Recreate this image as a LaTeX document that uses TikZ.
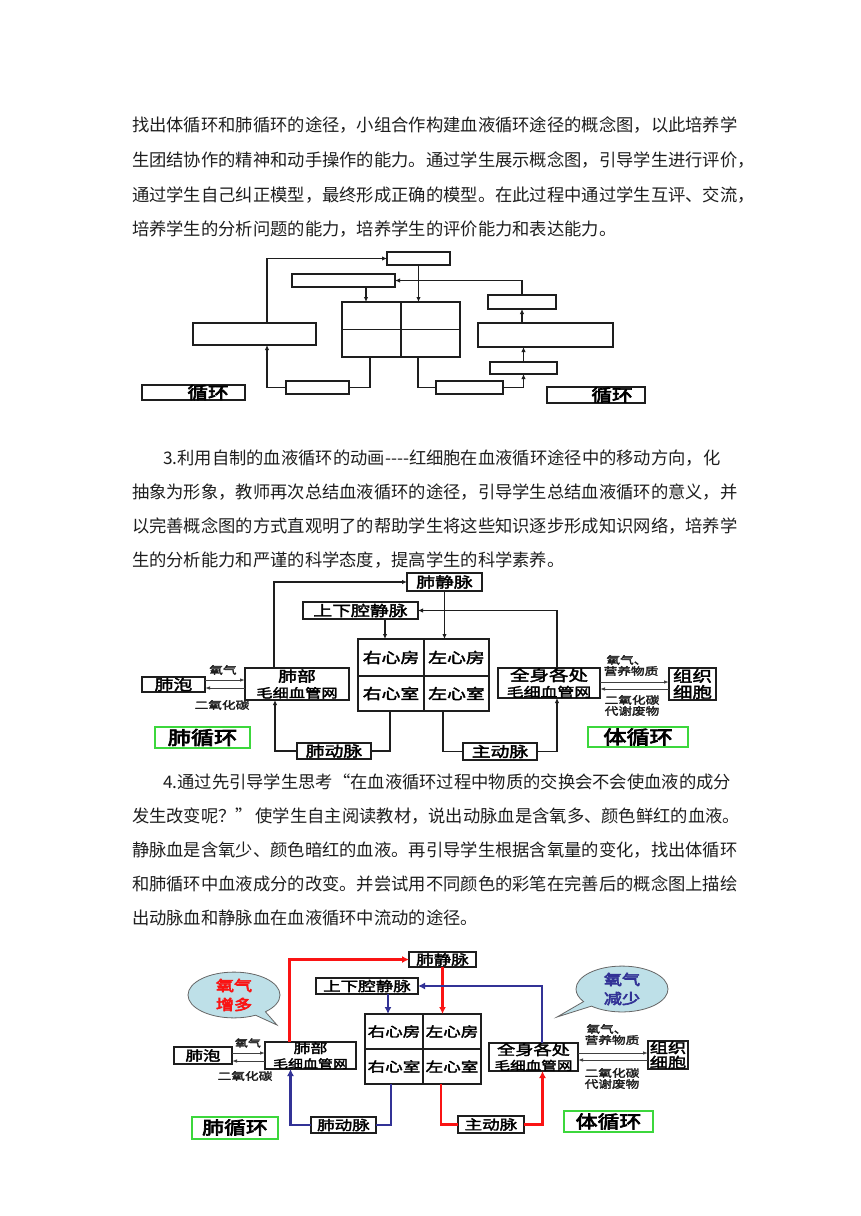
\documentclass[tikz,border=0pt]{standalone}
\usepackage{fontspec}
\setmainfont{Noto Sans CJK SC}
\newfontfamily\dg[FakeStretch=1.3,FakeBold=2.5]{Noto Sans CJK SC}
\newfontfamily\dgh[FakeStretch=1.25,FakeBold=4]{Noto Sans CJK SC}
\usetikzlibrary{arrows.meta,shapes.callouts,calc}
\XeTeXlinebreaklocale "zh"
\XeTeXlinebreakskip=0pt plus 4pt
\definecolor{myred}{RGB}{250,20,20}
\definecolor{myblue}{RGB}{50,50,150}
\definecolor{mygreen}{RGB}{60,215,60}
\definecolor{bubble}{RGB}{190,224,232}
\definecolor{ink}{RGB}{30,30,30}
\begin{document}
\begin{tikzpicture}[x=1pt,y=-1pt,every node/.style={inner sep=0pt,outer sep=0pt},
  txt/.style={anchor=west,text=ink,font=\fontsize{17.3}{20}\selectfont},
  b1/.style={draw=ink,line width=1.6pt},
  c1/.style={draw=ink,line width=1.3pt},
  ar/.style={-{Latex[length=5pt,width=4.5pt]}},
  b2/.style={draw=ink,line width=1.8pt,align=center,font=\dg\fontsize{14.5}{16}\selectfont},
  b3/.style={draw=ink,line width=1.4pt,align=center,font=\dg\fontsize{13.5}{15}\selectfont},
  c2/.style={draw=ink,line width=1.7pt},
  gas/.style={draw=black!75,line width=0.9pt,-{Latex[length=5pt,width=3.5pt]}},
  lbl/.style={font=\dg\fontsize{10.5}{12}\selectfont,text=ink},
  grn/.style={draw=mygreen,line width=2pt,font=\dgh\fontsize{18.5}{20}\selectfont},
  loop1/.style={draw=ink,line width=2pt,font=\dgh\fontsize{16.5}{18}\selectfont},
  rl/.style={draw=myred,line width=2.6pt},
  bl/.style={draw=myblue,line width=2.6pt},
  art/.style={-{Latex[length=7pt,width=7pt]}}]
\useasboundingbox (0,0) rectangle (860,1216);
\fill[white] (0,0) rectangle (860,1216);

% ---------- paragraph 1 ----------
\node[txt] (p1a) at (132,125) {\makebox[600pt][s]{找出体循环和肺循环的途径，小组合作构建血液循环途径的概念图，以此培养学}};
\node[txt] (p1b) at (132,160) {\makebox[600pt][s]{生团结协作的精神和动手操作的能力。通过学生展示概念图，引导学生进行评价，}};
\node[txt] (p1c) at (132,195) {\makebox[600pt][s]{通过学生自己纠正模型，最终形成正确的模型。在此过程中通过学生互评、交流，}};
\node[txt] (p1d) at (132,229) {培养学生的分析问题的能力，培养学生的评价能力和表达能力。};

% ---------- diagram 1 ----------
\node[b1,minimum width=63,minimum height=13] (d1top) at (418.5,258.5) {};
\node[b1,minimum width=103,minimum height=13] (d1sec) at (343.5,280.5) {};
\node[b1,minimum width=59,minimum height=27.5] (ra) at (371.5,315.75) {};
\node[b1,minimum width=59,minimum height=27.5] (la) at (430.5,315.75) {};
\node[b1,minimum width=59,minimum height=27.5] (rv) at (371.5,343.25) {};
\node[b1,minimum width=59,minimum height=27.5] (lv) at (430.5,343.25) {};
\node[b1,minimum width=123,minimum height=22] (d1lung) at (254.5,334) {};
\node[b1,minimum width=68,minimum height=14] (d1rtop) at (522,302) {};
\node[b1,minimum width=135,minimum height=24] (d1body) at (545.5,335) {};
\node[b1,minimum width=67,minimum height=12] (d1rlow) at (523.5,368) {};
\node[b1,minimum width=63,minimum height=13] (d1pa) at (317.5,387.5) {};
\node[b1,minimum width=67,minimum height=13] (d1ao) at (469.5,387.5) {};
\node[loop1,minimum width=103,minimum height=15] (d1c1) at (193.5,392.5) {\hspace*{29pt}循环};
\node[loop1,minimum width=98,minimum height=16] (d1c2) at (596,395) {\hspace*{32pt}循环};

\draw[c1,ar] ([xshift=12.5pt]d1lung.north) |- (d1top.west);
\draw[c1,ar] (d1top.south) -- (d1top.south |- la.north);
\draw[c1,ar] ([xshift=22.5pt]d1sec.south) -- ([xshift=22.5pt]d1sec.south |- ra.north);
\draw[c1,ar] (d1rtop.north) |- (d1sec.east);
\draw[c1,ar] (d1body.north -| d1rtop) -- (d1rtop.south);
\draw[c1,ar] (d1rlow.north) -- (d1rlow.north |- d1body.south);
\draw[c1,ar] (d1ao.east) -| (d1rlow.south);
\draw[c1] ([xshift=-12.5pt]lv.south) |- (d1ao.west);
\draw[c1] ([xshift=-1.5pt]rv.south) |- (d1pa.east);
\draw[c1,ar] (d1pa.west) -| ([xshift=12.5pt]d1lung.south);

% ---------- paragraph 3 ----------
\node[txt] (p3a) at (163,458) {\makebox[569pt][s]{3.利用自制的血液循环的动画-{}-{}-{}-红细胞在血液循环途径中的移动方向，化}};
\node[txt] (p3b) at (132,492) {\makebox[600pt][s]{抽象为形象，教师再次总结血液循环的途径，引导学生总结血液循环的意义，并}};
\node[txt] (p3c) at (132,526) {\makebox[600pt][s]{以完善概念图的方式直观明了的帮助学生将这些知识逐步形成知识网络，培养学}};
\node[txt] (p3d) at (132,560) {生的分析能力和严谨的科学态度，提高学生的科学素养。};

% ---------- diagram 2 ----------
\node[b2,minimum width=75,minimum height=18] (pv2) at (444.5,582) {肺静脉};
\node[b2,minimum width=115,minimum height=17] (vc2) at (360.5,610.5) {上下腔静脉};
\node[b2,line width=2.1pt,minimum width=66,minimum height=37] (ra2) at (391,657.5) {右心房};
\node[b2,line width=2.1pt,minimum width=65,minimum height=37] (la2) at (456.5,657.5) {左心房};
\node[b2,line width=2.1pt,minimum width=66,minimum height=35] (rv2) at (391,693.5) {右心室};
\node[b2,line width=2.1pt,minimum width=65,minimum height=35] (lv2) at (456.5,693.5) {左心室};
\node[b2,minimum width=104,minimum height=32] (lc2) at (297,684) {肺部\\{\fontsize{12.5}{14}\selectfont 毛细血管网}};
\node[b2,minimum width=63,minimum height=15] (al2) at (173.5,684.5) {肺泡};
\node[b2,minimum width=102,minimum height=30] (sc2) at (549,683) {{\fontsize{15}{16}\selectfont 全身各处}\\{\fontsize{13}{14}\selectfont 毛细血管网}};
\node[b2,minimum width=47,minimum height=32,font=\dg\fontsize{15}{16}\selectfont] (tc2) at (692.5,684) {组织\\细胞};
\node[grn,minimum width=95,minimum height=21] (pul2) at (202.5,737.5) {肺循环};
\node[grn,minimum width=100,minimum height=20] (sys2) at (638,737) {体循环};
\node[b2,minimum width=74,minimum height=16] (pa2) at (334,751) {肺动脉};
\node[b2,minimum width=74,minimum height=17] (ao2) at (500,751.5) {主动脉};

\draw[c2,ar] ([xshift=-23pt]lc2.north) |- (pv2.west);
\draw[c2,ar] (pv2.south) -- (pv2.south |- la2.north);
\draw[c2,ar] ([xshift=24.5pt]vc2.south) -- ([xshift=24.5pt]vc2.south |- ra2.north);
\draw[c2,ar] ([xshift=8pt]sc2.north) |- (vc2.east);
\draw[c2] ([xshift=-13.5pt]lv2.south) |- (ao2.west);
\draw[c2,ar] (ao2.east) -| ([xshift=8pt]sc2.south);
\draw[c2] ([xshift=-1pt]rv2.south) |- (pa2.east);
\draw[c2,ar] (pa2.west) -| ([xshift=-22pt]lc2.south);

\draw[gas] ([yshift=4.5pt]al2.east) -- ([yshift=4.5pt]al2.east -| lc2.west);
\draw[gas] ([yshift=-3.5pt]al2.east -| lc2.west) -- ([yshift=-3.5pt]al2.east);
\node[lbl] (o2a) at (223,670) {氧气};
\node[lbl] (co2a) at (222,705) {二氧化碳};
\draw[gas] ([yshift=1pt]sc2.east) -- ([yshift=1pt]sc2.east -| tc2.west);
\draw[gas] ([yshift=-6pt]sc2.east -| tc2.west) -- ([yshift=-6pt]sc2.east);
\node[lbl] (o2b) at (627,660) {氧气、};
\node[lbl] (nutb) at (631,671) {营养物质};
\node[lbl] (co2b) at (632,700) {二氧化碳};
\node[lbl] (wb) at (632,711) {代谢废物};

% ---------- paragraph 4 ----------
\node[txt] (p4a) at (163,782) {\makebox[569pt][s]{4.通过先引导学生思考“在血液循环过程中物质的交换会不会使血液的成分}};
\node[txt] (p4b) at (132,816) {\makebox[600pt][s]{发生改变呢？” 使学生自主阅读教材，说出动脉血是含氧多、颜色鲜红的血液。}};
\node[txt] (p4c) at (132,850) {\makebox[600pt][s]{静脉血是含氧少、颜色暗红的血液。再引导学生根据含氧量的变化，找出体循环}};
\node[txt] (p4d) at (132,884) {\makebox[600pt][s]{和肺循环中血液成分的改变。并尝试用不同颜色的彩笔在完善后的概念图上描绘}};
\node[txt] (p4e) at (132,918) {出动脉血和静脉血在血液循环中流动的途径。};

% ---------- diagram 3 ----------
\node[b3,minimum width=67,minimum height=15] (pv3) at (442.5,959.5) {肺静脉};
\node[b3,minimum width=102,minimum height=16] (vc3) at (367,986) {上下腔静脉};
\node[b3,minimum width=58,minimum height=35] (ra3) at (394,1031.5) {右心房};
\node[b3,minimum width=58,minimum height=35] (la3) at (452,1031.5) {左心房};
\node[b3,minimum width=58,minimum height=35] (rv3) at (394,1066.5) {右心室};
\node[b3,minimum width=58,minimum height=35] (lv3) at (452,1066.5) {左心室};
\node[b3,minimum width=91,minimum height=27] (lc3) at (310.5,1055.5) {{\fontsize{13}{14}\selectfont 肺部}\\{\fontsize{11.5}{13}\selectfont 毛细血管网}};
\node[b3,minimum width=58,minimum height=17] (al3) at (203,1055.5) {肺泡};
\node[b3,minimum width=89,minimum height=28] (sc3) at (533.5,1057) {{\fontsize{14}{15}\selectfont 全身各处}\\{\fontsize{12}{13}\selectfont 毛细血管网}};
\node[b3,minimum width=40,minimum height=28,font=\dg\fontsize{14}{14.5}\selectfont] (tc3) at (668,1055) {组织\\细胞};
\node[grn,minimum width=86,minimum height=22,font=\dgh\fontsize{17.5}{19}\selectfont] (pul3) at (235,1127.5) {肺循环};
\node[grn,minimum width=89,minimum height=21,font=\dgh\fontsize{17.5}{19}\selectfont] (sys3) at (608.5,1121.5) {体循环};
\node[b3,minimum width=65,minimum height=16] (pa3) at (343.5,1125) {肺动脉};
\node[b3,minimum width=66,minimum height=17] (ao3) at (491,1124.5) {主动脉};

\draw[rl,art] ([xshift=-21pt]lc3.north) |- (pv3.west);
\draw[rl,art] (pv3.south) -- (pv3.south |- la3.north);
\draw[bl,art] ([xshift=-6pt]vc3.south -| ra3) -- ([xshift=-6pt]ra3.north);
\draw[bl,art] ([xshift=8.5pt]sc3.north) |- (vc3.east);
\draw[bl] ([xshift=-3pt]rv3.south) |- (pa3.east);
\draw[bl,art] (pa3.west) -| ([xshift=-20pt]lc3.south);
\draw[rl] ([xshift=-11pt]lv3.south) |- (ao3.west);
\draw[rl,art] (ao3.east) -| ([xshift=9pt]sc3.south);

\draw[gas] ([yshift=2.5pt]al3.east) -- ([yshift=2.5pt]al3.east -| lc3.west);
\draw[gas] ([yshift=-5.5pt]al3.east -| lc3.west) -- ([yshift=-5.5pt]al3.east);
\node[lbl,font=\dg\fontsize{10}{11}\selectfont] (o2c) at (248,1043) {氧气};
\node[lbl] (co2c) at (245,1076) {二氧化碳};
\draw[gas] ([yshift=4pt]sc3.east) -- ([yshift=4pt]sc3.east -| tc3.west);
\draw[gas] ([yshift=-3pt]sc3.east -| tc3.west) -- ([yshift=-3pt]sc3.east);
\node[lbl] (o2d) at (607,1029) {氧气、};
\node[lbl] (nutd) at (612,1040) {营养物质};
\node[lbl] (co2d) at (612,1073) {二氧化碳};
\node[lbl] (wd) at (612,1084) {代谢废物};

\node[ellipse callout,draw=black!60,line width=0.8pt,fill=bubble,minimum width=92,minimum height=44,
  callout absolute pointer={(277,1025)},align=center,text=myred,
  font=\dgh\fontsize{14.5}{19}\selectfont] (bub1) at (234,995) {氧气\\增多};
\node[ellipse callout,draw=black!60,line width=0.8pt,fill=bubble,minimum width=92,minimum height=45,
  callout absolute pointer={(557,1017)},align=center,text=myblue,
  font=\dgh\fontsize{14.5}{19}\selectfont] (bub2) at (622,989) {氧气\\减少};
\end{tikzpicture}
\end{document}
